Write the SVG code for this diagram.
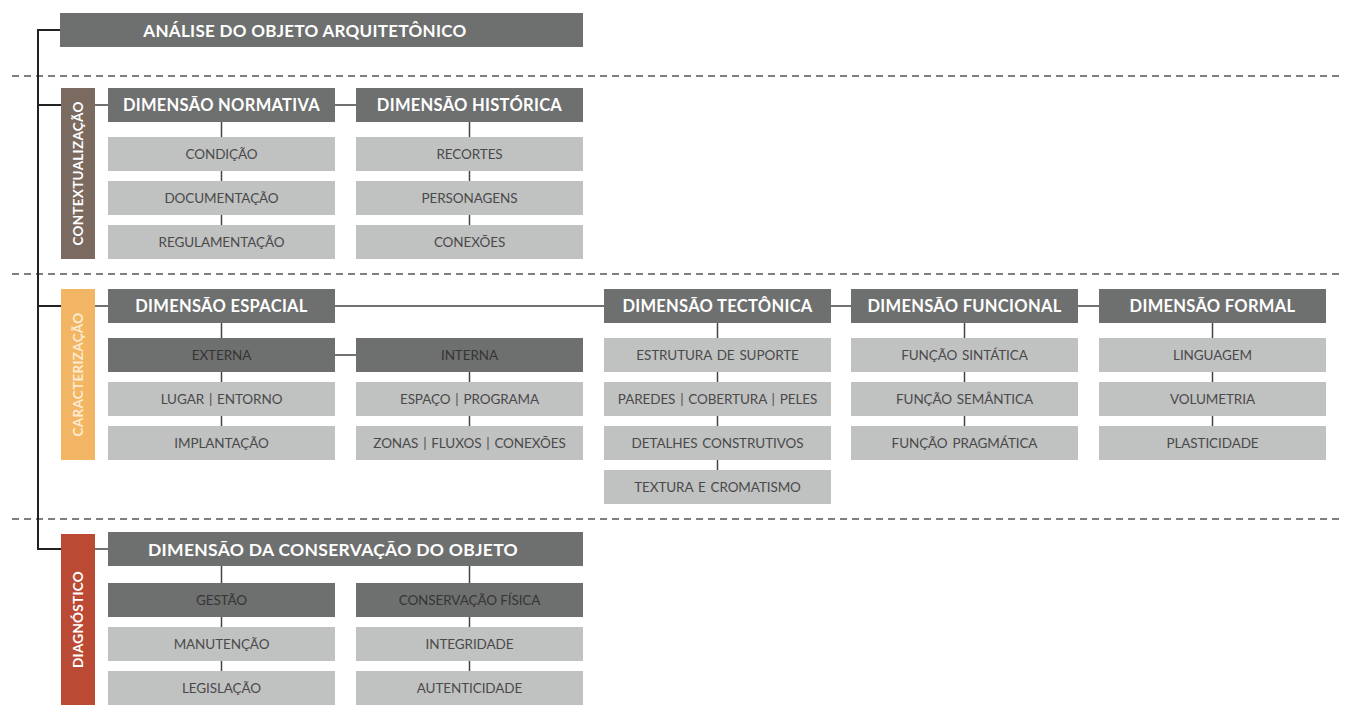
<svg xmlns="http://www.w3.org/2000/svg" width="1345" height="715" viewBox="0 0 1345 715">
<style>
.hd{fill:#6e706f}
.it{fill:#c0c1c1}
.dk{fill:#6e706f}
.ht{font-family:Lato,"Liberation Sans",sans-serif;font-weight:700;font-size:16.5px;fill:#ffffff;text-anchor:middle;dominant-baseline:central;letter-spacing:0.3px}
.tt{font-family:Lato,"Liberation Sans",sans-serif;font-weight:400;font-size:13.5px;fill:#4a4a4a;text-anchor:middle;dominant-baseline:central;letter-spacing:-0.1px;word-spacing:1.5px}
.td{font-family:Lato,"Liberation Sans",sans-serif;font-weight:400;font-size:13.5px;fill:#353535;text-anchor:middle;dominant-baseline:central;letter-spacing:-0.1px}
.st{font-family:Lato,"Liberation Sans",sans-serif;font-weight:700;font-size:13.5px;fill:#ffffff;text-anchor:middle;dominant-baseline:central;letter-spacing:0.3px}
.ln{stroke:#444;stroke-width:1.5;fill:none}
.tr{stroke:#222;stroke-width:2;fill:none}
.da{stroke:#555;stroke-width:1.3;stroke-dasharray:7 5;fill:none}
</style>
<rect width="1345" height="715" fill="#ffffff"/>
<g id="separators">
<line class="da" x1="12" y1="76" x2="1340" y2="76"/>
<line class="da" x1="12" y1="274" x2="1340" y2="274"/>
<line class="da" x1="12" y1="519" x2="1340" y2="519"/>
</g>
<g id="connectors">
<path class="tr" d="M60 30H38V549H61M38 105H61M38 306H61"/>
<path class="ln" d="M95 105H108M335 105H356M221.5 122V137M221.5 171V181M221.5 215V225M469.5 122V137M469.5 171V181M469.5 215V225"/>
<path class="ln" d="M95 306H108M335 306H604M831 306H851M1078 306H1099M221.5 323V338M221.5 372V382M221.5 416V426M335 355H356M469.5 372V382M469.5 416V426M717.5 323V338M717.5 372V382M717.5 416V426M717.5 460V470M964.5 323V338M964.5 372V382M964.5 416V426M1212.5 323V338M1212.5 372V382M1212.5 416V426"/>
<path class="ln" d="M95 549H108M221.5 566V583M221.5 617V627M221.5 661V671M469.5 566V583M469.5 617V627M469.5 661V671"/>
</g>
<g id="root"><rect class="hd" x="60" y="13" width="523" height="34"/><text class="ht" x="305" y="30" style="font-size:17px">ANÁLISE DO OBJETO ARQUITETÔNICO</text></g>
<g id="contextualizacao"><rect x="61" y="88" width="34" height="171" fill="#7b6a60"/><text class="st" transform="translate(78 173.5) rotate(-90)">CONTEXTUALIZAÇÃO</text></g>
<g id="caracterizacao"><rect x="61" y="289" width="34" height="171" fill="#f2b563"/><text class="st" transform="translate(78 374.5) rotate(-90)" style="fill:#fdebd0">CARACTERIZAÇÃO</text></g>
<g id="diagnostico"><rect x="61" y="534" width="34" height="171" fill="#bb4a35"/><text class="st" transform="translate(78 619.5) rotate(-90)">DIAGNÓSTICO</text></g>
<g id="dim-normativa"><rect class="hd" x="108" y="88" width="227" height="34"/><text class="ht" x="221.5" y="105">DIMENSÃO NORMATIVA</text></g>
<g id="condicao"><rect class="it" x="108" y="137" width="227" height="34"/><text class="tt" x="221.5" y="154">CONDIÇÃO</text></g>
<g id="documentacao"><rect class="it" x="108" y="181" width="227" height="34"/><text class="tt" x="221.5" y="198">DOCUMENTAÇÃO</text></g>
<g id="regulamentacao"><rect class="it" x="108" y="225" width="227" height="34"/><text class="tt" x="221.5" y="242">REGULAMENTAÇÃO</text></g>
<g id="dim-historica"><rect class="hd" x="356" y="88" width="227" height="34"/><text class="ht" x="469.5" y="105">DIMENSÃO HISTÓRICA</text></g>
<g id="recortes"><rect class="it" x="356" y="137" width="227" height="34"/><text class="tt" x="469.5" y="154">RECORTES</text></g>
<g id="personagens"><rect class="it" x="356" y="181" width="227" height="34"/><text class="tt" x="469.5" y="198">PERSONAGENS</text></g>
<g id="conexoes"><rect class="it" x="356" y="225" width="227" height="34"/><text class="tt" x="469.5" y="242">CONEXÕES</text></g>
<g id="dim-espacial"><rect class="hd" x="108" y="289" width="227" height="34"/><text class="ht" x="221.5" y="306">DIMENSÃO ESPACIAL</text></g>
<g id="externa"><rect class="dk" x="108" y="338" width="227" height="34"/><text class="td" x="221.5" y="355">EXTERNA</text></g>
<g id="lugar"><rect class="it" x="108" y="382" width="227" height="34"/><text class="tt" x="221.5" y="399">LUGAR | ENTORNO</text></g>
<g id="implantacao"><rect class="it" x="108" y="426" width="227" height="34"/><text class="tt" x="221.5" y="443">IMPLANTAÇÃO</text></g>
<g id="interna"><rect class="dk" x="356" y="338" width="227" height="34"/><text class="td" x="469.5" y="355">INTERNA</text></g>
<g id="espaco"><rect class="it" x="356" y="382" width="227" height="34"/><text class="tt" x="469.5" y="399">ESPAÇO | PROGRAMA</text></g>
<g id="zonas"><rect class="it" x="356" y="426" width="227" height="34"/><text class="tt" x="469.5" y="443">ZONAS | FLUXOS | CONEXÕES</text></g>
<g id="dim-tectonica"><rect class="hd" x="604" y="289" width="227" height="34"/><text class="ht" x="717.5" y="306">DIMENSÃO TECTÔNICA</text></g>
<g id="estrutura"><rect class="it" x="604" y="338" width="227" height="34"/><text class="tt" x="717.5" y="355">ESTRUTURA DE SUPORTE</text></g>
<g id="paredes"><rect class="it" x="604" y="382" width="227" height="34"/><text class="tt" x="717.5" y="399">PAREDES | COBERTURA | PELES</text></g>
<g id="detalhes"><rect class="it" x="604" y="426" width="227" height="34"/><text class="tt" x="717.5" y="443">DETALHES CONSTRUTIVOS</text></g>
<g id="textura"><rect class="it" x="604" y="470" width="227" height="34"/><text class="tt" x="717.5" y="487">TEXTURA E CROMATISMO</text></g>
<g id="dim-funcional"><rect class="hd" x="851" y="289" width="227" height="34"/><text class="ht" x="964.5" y="306">DIMENSÃO FUNCIONAL</text></g>
<g id="sintatica"><rect class="it" x="851" y="338" width="227" height="34"/><text class="tt" x="964.5" y="355">FUNÇÃO SINTÁTICA</text></g>
<g id="semantica"><rect class="it" x="851" y="382" width="227" height="34"/><text class="tt" x="964.5" y="399">FUNÇÃO SEMÂNTICA</text></g>
<g id="pragmatica"><rect class="it" x="851" y="426" width="227" height="34"/><text class="tt" x="964.5" y="443">FUNÇÃO PRAGMÁTICA</text></g>
<g id="dim-formal"><rect class="hd" x="1099" y="289" width="227" height="34"/><text class="ht" x="1212.5" y="306">DIMENSÃO FORMAL</text></g>
<g id="linguagem"><rect class="it" x="1099" y="338" width="227" height="34"/><text class="tt" x="1212.5" y="355">LINGUAGEM</text></g>
<g id="volumetria"><rect class="it" x="1099" y="382" width="227" height="34"/><text class="tt" x="1212.5" y="399">VOLUMETRIA</text></g>
<g id="plasticidade"><rect class="it" x="1099" y="426" width="227" height="34"/><text class="tt" x="1212.5" y="443">PLASTICIDADE</text></g>
<g id="dim-conservacao"><rect class="hd" x="108" y="532" width="475" height="34"/><text class="ht" x="333" y="549" style="font-size:17.5px">DIMENSÃO DA CONSERVAÇÃO DO OBJETO</text></g>
<g id="gestao"><rect class="dk" x="108" y="583" width="227" height="34"/><text class="td" x="221.5" y="600">GESTÃO</text></g>
<g id="manutencao"><rect class="it" x="108" y="627" width="227" height="34"/><text class="tt" x="221.5" y="644">MANUTENÇÃO</text></g>
<g id="legislacao"><rect class="it" x="108" y="671" width="227" height="34"/><text class="tt" x="221.5" y="688">LEGISLAÇÃO</text></g>
<g id="conservacao-fisica"><rect class="dk" x="356" y="583" width="227" height="34"/><text class="td" x="469.5" y="600">CONSERVAÇÃO FÍSICA</text></g>
<g id="integridade"><rect class="it" x="356" y="627" width="227" height="34"/><text class="tt" x="469.5" y="644">INTEGRIDADE</text></g>
<g id="autenticidade"><rect class="it" x="356" y="671" width="227" height="34"/><text class="tt" x="469.5" y="688">AUTENTICIDADE</text></g>
</svg>
